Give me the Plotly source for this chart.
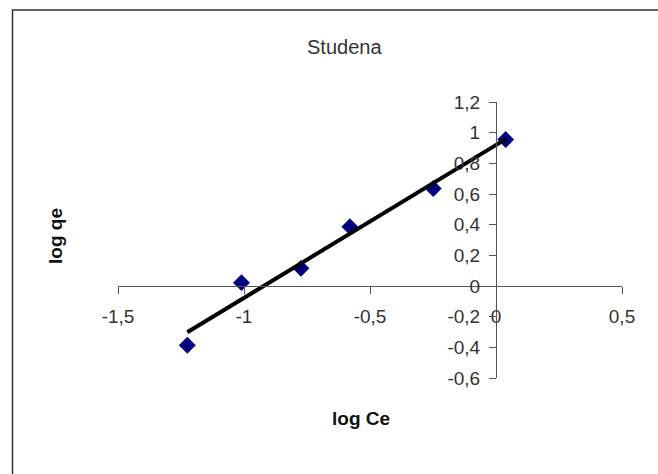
import numpy as np
import plotly.graph_objects as go

# log Ce vs log qe (Studena)
log_ce = [-1.225, -1.01, -0.774, -0.58, -0.249, 0.0385]
log_qe = [-0.386, 0.022, 0.115, 0.387, 0.636, 0.955]

x_ticks = [-1.5, -1.0, -0.5, 0.0, 0.5]
x_labels = ['-1,5', '-1', '-0,5', '0', '0,5']
y_ticks = [-0.6, -0.4, -0.2, 0.0, 0.2, 0.4, 0.6, 0.8, 1.0, 1.2]
y_labels = ['-0,6', '-0,4', '-0,2', '0', '0,2', '0,4', '0,6', '0,8', '1', '1,2']

X_RANGE = [-1.5, 0.5]
Y_RANGE = [-0.6, 1.2]

# linear trendline over data range (Excel-style)
slope, icpt = np.polyfit(log_ce, log_qe, 1)
trend_x = [min(log_ce), max(log_ce)]
trend_y = [slope * v + icpt for v in trend_x]

FONT = 'Liberation Sans, Arial, sans-serif'
AXIS_COLOR = '#555555'
L, R, T, B = 118, 36, 102, 96
PW, PH = 658 - L - R, 474 - T - B


def px(x):
    return (x - L) / PW


def py(y):
    return (474 - B - y) / PH


fig = go.Figure()
fig.add_trace(go.Scatter(
    x=log_ce, y=log_qe, mode='markers',
    marker=dict(symbol='diamond', size=13, color='#000080'),
    showlegend=False,
))
fig.add_trace(go.Scatter(
    x=trend_x, y=trend_y, mode='lines',
    line=dict(color='black', width=4),
    showlegend=False,
))

# axes cross at origin
x_pos = (0 - Y_RANGE[0]) / (Y_RANGE[1] - Y_RANGE[0])
y_pos = (0 - X_RANGE[0]) / (X_RANGE[1] - X_RANGE[0])

fig.update_layout(
    width=658, height=474,
    margin=dict(l=L, r=R, t=T, b=B),
    paper_bgcolor='white', plot_bgcolor='white',
    font=dict(family=FONT, size=20, color='#222222'),
    xaxis=dict(
        range=X_RANGE, tickvals=x_ticks, ticktext=x_labels,
        showgrid=False, zeroline=False, showline=True,
        linecolor=AXIS_COLOR, linewidth=1,
        ticks='outside', ticklen=7, tickcolor=AXIS_COLOR,
        anchor='free', position=x_pos, ticklabelstandoff=6,
        tickfont=dict(size=19, color='#333333'),
    ),
    yaxis=dict(
        range=Y_RANGE, tickvals=y_ticks, ticktext=y_labels,
        showgrid=False, zeroline=False, showline=True,
        linecolor=AXIS_COLOR, linewidth=1,
        ticks='outside', ticklen=7, tickcolor=AXIS_COLOR,
        anchor='free', position=y_pos, ticklabelstandoff=5,
        tickfont=dict(size=19, color='#333333'),
    ),
    shapes=[dict(
        type='rect', xref='paper', yref='paper',
        x0=px(12.5), x1=px(700), y0=py(520), y1=py(10),
        line=dict(color='#333333', width=1.5),
    )],
    annotations=[
        dict(text='Studena', xref='paper', yref='paper',
             x=px(344), y=py(47), xanchor='center', yanchor='middle',
             showarrow=False, font=dict(size=20, color='#333333')),
        dict(text='<b>log qe</b>', xref='paper', yref='paper',
             x=px(55), y=py(236), xanchor='center', yanchor='middle',
             textangle=-90, showarrow=False,
             font=dict(size=19, color='#111111')),
        dict(text='<b>log Ce</b>', xref='paper', yref='paper',
             x=px(361), y=py(418), xanchor='center', yanchor='middle',
             showarrow=False, font=dict(size=19, color='#111111')),
    ],
)

fig.write_html('out.html', config={'displayModeBar': False},
               post_script="document.body.style.margin='0';")
